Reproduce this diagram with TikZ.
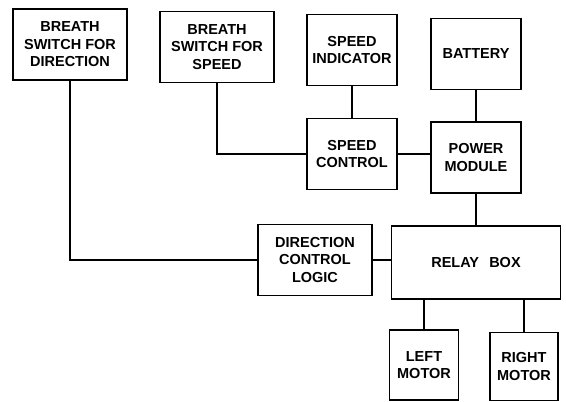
\documentclass[tikz,border=0pt]{standalone}
\usepackage{fontspec}
\setmainfont{Liberation Sans}
\usepackage{tikz}
\usetikzlibrary{positioning,calc}

\begin{document}
\begin{tikzpicture}[
    x=1pt, y=-1pt,
    every node/.style={font=\fontsize{14.5}{17.5}\selectfont\bfseries},
    block/.style={draw, line width=1.2pt, align=center, inner sep=1pt,
                  minimum width=90pt, minimum height=71pt},
    wide/.style={block, minimum width=114pt},
    link/.style={draw, line width=1.2pt},
]
    \useasboundingbox (0,0) rectangle (566,402);

    % top row
    \node[wide] (dirsw) at (70,44.5) {BREATH\\SWITCH FOR\\DIRECTION};
    \node[wide] (spdsw) at (217,47) {BREATH\\SWITCH FOR\\SPEED};
    \node[block] (spdind) at (352,50) {SPEED\\INDICATOR};
    \node[block] (battery) at (476,54) {BATTERY};

    % middle row
    \node[block] (spdctl) at (352,154) {SPEED\\CONTROL};
    \node[block] (power) at (476,157.5) {POWER\\MODULE};

    % lower row
    \node[wide] (dirlogic) at (315,260) {DIRECTION\\CONTROL\\LOGIC};
    \node[block, minimum width=169pt, minimum height=73pt] (relay) at (476,262.5)
        {RELAY\hspace{0.7em}BOX};
    \node[block, minimum width=69pt, minimum height=70pt] (leftm) at (424,365) {LEFT\\MOTOR};
    \node[block, minimum width=68pt, minimum height=68pt] (rightm) at (524,366.5) {RIGHT\\MOTOR};

    % connections
    \draw[link] (dirsw.south) |- (dirlogic.west);
    \draw[link] (spdsw.south) |- (spdctl.west);
    \draw[link] (spdind) -- (spdctl);
    \draw[link] (battery) -- (power);
    \draw[link] (spdctl.east) -- (spdctl.east -| power.west);
    \draw[link] (power) -- (relay);
    \draw[link] (dirlogic.east) -- (dirlogic.east -| relay.west);
    \draw[link] (relay.south -| leftm.north) -- (leftm.north);
    \draw[link] (relay.south -| rightm.north) -- (rightm.north);
\end{tikzpicture}
\end{document}
